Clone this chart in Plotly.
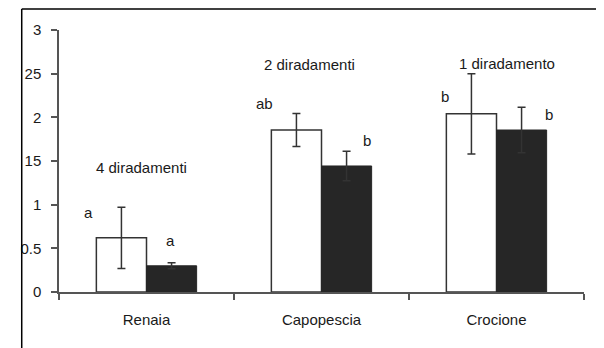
import plotly.graph_objects as go

# ---- data ----
sites = ["Renaia", "Capopescia", "Crocione"]
white_vals = [0.62, 1.855, 2.04]
white_err = [0.35, 0.19, 0.46]
black_vals = [0.30, 1.443, 1.855]
black_err = [0.035, 0.17, 0.26]
white_letters = ["a", "ab", "b"]
black_letters = ["a", "b", "b"]
group_titles = ["4 diradamenti", "2 diradamenti", "1 diradamento"]
y_tickvals = [0, 0.5, 1, 1.5, 2, 2.5, 3]
y_ticktext = ["0", "0.5", "1", "15", "2", "25", "3"]

# ---- label placement (style) ----
white_lab_dx = [-0.33, -0.326, -0.295]
white_lab_y = [0.916, 2.164, 2.233]
black_lab_dx = [0.135, 0.26, 0.30]
black_lab_y = [0.595, 1.73, 2.027]
title_dx = [-0.03, -0.07, 0.06]
title_y = [1.42, 2.60, 2.62]

FONT = "Liberation Sans, Arial, sans-serif"
TXT = "#1a1a1a"
AX = "#555555"

fig = go.Figure()
fig.add_trace(go.Bar(
    x=sites, y=white_vals,
    marker=dict(color="white", line=dict(color="#333333", width=1.5)),
    error_y=dict(type="data", array=white_err, visible=True,
                 color="#333333", thickness=1.5, width=4),
    showlegend=False))
fig.add_trace(go.Bar(
    x=sites, y=black_vals,
    marker=dict(color="#262626", line=dict(color="#262626", width=1)),
    error_y=dict(type="data", array=black_err, visible=True,
                 color="#333333", thickness=1.5, width=4),
    showlegend=False))

ann = []
for i in range(len(sites)):
    ann.append(dict(x=i + white_lab_dx[i], y=white_lab_y[i], text=white_letters[i],
                    showarrow=False, xref="x", yref="y", yanchor="middle"))
    ann.append(dict(x=i + black_lab_dx[i], y=black_lab_y[i], text=black_letters[i],
                    showarrow=False, xref="x", yref="y", yanchor="middle"))
    ann.append(dict(x=i + title_dx[i], y=title_y[i], text=group_titles[i],
                    showarrow=False, xref="x", yref="y", yanchor="middle"))

fig.update_layout(
    width=596, height=340,
    margin=dict(l=41, r=20, t=22, b=56),
    paper_bgcolor="white", plot_bgcolor="white",
    barmode="group", bargap=0.427, bargroupgap=0,
    font=dict(family=FONT, size=15, color=TXT),
    annotations=ann,
    shapes=[
        dict(type="line", xref="paper", yref="paper", x0=-0.071, x1=1.05,
             y0=1.080, y1=1.080, line=dict(color="black", width=1.5)),
        dict(type="line", xref="paper", yref="paper", x0=-0.071, x1=-0.071,
             y0=1.080, y1=-0.25, line=dict(color="black", width=1.5)),
    ],
)
fig.update_xaxes(
    type="category", tickson="boundaries", ticks="outside", ticklen=6,
    tickcolor=AX, tickwidth=1.5, showline=True, linecolor=AX, linewidth=1.5,
    showgrid=False, zeroline=False, ticklabelstandoff=13,
    tickfont=dict(family=FONT, size=15, color=TXT))
fig.update_yaxes(
    range=[0, 3], tickvals=y_tickvals, ticktext=y_ticktext,
    ticks="outside", ticklen=6, tickcolor=AX, tickwidth=1.5,
    showline=True, linecolor=AX, linewidth=1.5, showgrid=False, zeroline=False,
    ticklabelstandoff=7,
    tickfont=dict(family=FONT, size=15, color=TXT))

fig.write_html("out.html")
